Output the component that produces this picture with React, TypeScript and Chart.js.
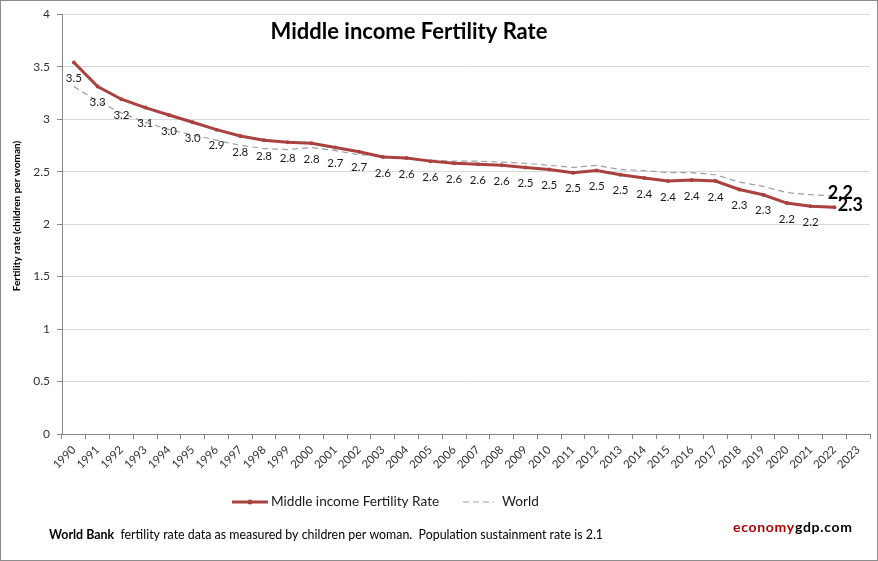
import React, { useEffect, useRef } from "react";
import { Chart, registerables } from "chart.js";

Chart.register(...registerables);

const years = [
  "1990", "1991", "1992", "1993", "1994", "1995", "1996", "1997", "1998", "1999",
  "2000", "2001", "2002", "2003", "2004", "2005", "2006", "2007", "2008", "2009",
  "2010", "2011", "2012", "2013", "2014", "2015", "2016", "2017", "2018", "2019",
  "2020", "2021", "2022", "2023",
];

// Total fertility rate, children per woman
const middleIncome = [
  3.54, 3.31, 3.19, 3.11, 3.04, 2.97, 2.9, 2.84, 2.8, 2.78,
  2.77, 2.73, 2.69, 2.64, 2.63, 2.6, 2.58, 2.57, 2.56, 2.54,
  2.52, 2.49, 2.51, 2.47, 2.44, 2.41, 2.42, 2.41, 2.33, 2.28,
  2.2, 2.17, 2.16, null,
];

const world = [
  3.31, 3.17, 3.06, 2.97, 2.9, 2.85, 2.8, 2.75, 2.72, 2.71,
  2.73, 2.7, 2.66, 2.65, 2.62, 2.61, 2.6, 2.6, 2.59, 2.58,
  2.56, 2.54, 2.56, 2.52, 2.51, 2.49, 2.49, 2.47, 2.4, 2.36,
  2.3, 2.28, 2.27, null,
];

const yTicks = [0, 0.5, 1, 1.5, 2, 2.5, 3, 3.5, 4];

const TITLE = "Middle income Fertility Rate";
const Y_TITLE = "Fertility rate (children per woman)";
const FOOT_BOLD = "World Bank";
const FOOT_TEXT = "  fertility rate data as measured by children per woman.  Population sustainment rate is 2.1";

const RED = "#a9423e";
const GREY_DASH = "#a0a0a0";
const AXIS = "#868686";
const FONT = "Lato, 'Open Sans', sans-serif";

function lastIndex(arr: (number | null)[]) {
  for (let i = arr.length - 1; i >= 0; i--) if (arr[i] != null) return i;
  return -1;
}

const decorations = {
  id: "decorations",
  afterDatasetsDraw(chart: any) {
    const ctx = chart.ctx as CanvasRenderingContext2D;
    const redMeta = chart.getDatasetMeta(0);
    const worldMeta = chart.getDatasetMeta(1);
    const redData = chart.data.datasets[0].data as (number | null)[];
    const worldData = chart.data.datasets[1].data as (number | null)[];
    const lastRed = lastIndex(redData);
    const lastWorld = lastIndex(worldData);

    ctx.save();
    ctx.fillStyle = "#1a1a1a";
    ctx.textAlign = "center";
    ctx.textBaseline = "middle";
    ctx.font = `11.5px ${FONT}`;
    redData.forEach((v, i) => {
      if (v == null || i === lastRed) return;
      const p = redMeta.data[i];
      ctx.fillText(v.toFixed(1), p.x, p.y + 16);
    });

    // Final-year values, larger
    ctx.fillStyle = "#000";
    ctx.font = `bold 18px ${FONT}`;
    if (lastRed >= 0) {
      const p = redMeta.data[lastRed];
      ctx.fillText((redData[lastRed] as number).toFixed(1), p.x + 6, p.y - 14);
    }
    if (lastWorld >= 0) {
      const p = worldMeta.data[lastWorld];
      ctx.fillText((worldData[lastWorld] as number).toFixed(1), p.x + 16, p.y + 9);
    }
    ctx.restore();
  },
  afterDraw(chart: any) {
    const ctx = chart.ctx as CanvasRenderingContext2D;
    const W = chart.width;
    const H = chart.height;
    ctx.save();

    // Title
    ctx.fillStyle = "#000";
    ctx.textAlign = "center";
    ctx.textBaseline = "middle";
    ctx.font = `bold 22px ${FONT}`;
    ctx.fillText(TITLE, 409, 32);

    // Y axis title
    ctx.save();
    ctx.translate(17, 216);
    ctx.rotate(-Math.PI / 2);
    ctx.font = `bold 10px ${FONT}`;
    ctx.fillText(Y_TITLE, 0, 0);
    ctx.restore();

    // Legend
    const ds = chart.data.datasets;
    const ly = 502;
    ctx.textAlign = "left";
    ctx.font = `13.6px ${FONT}`;
    ctx.fillStyle = "#1a1a1a";

    ctx.strokeStyle = ds[0].borderColor;
    ctx.lineWidth = ds[0].borderWidth;
    ctx.beginPath();
    ctx.moveTo(232, ly);
    ctx.lineTo(268, ly);
    ctx.stroke();
    ctx.fillStyle = ds[0].borderColor;
    ctx.beginPath();
    ctx.arc(250, ly, 2.5, 0, Math.PI * 2);
    ctx.fill();
    ctx.fillStyle = "#1a1a1a";
    ctx.fillText(ds[0].label, 271, ly);

    ctx.strokeStyle = ds[1].borderColor;
    ctx.lineWidth = ds[1].borderWidth;
    ctx.setLineDash(ds[1].borderDash);
    ctx.beginPath();
    ctx.moveTo(463, ly);
    ctx.lineTo(494, ly);
    ctx.stroke();
    ctx.setLineDash([]);
    ctx.fillText(ds[1].label, 502, ly);

    // Footer note
    const fy = 535;
    ctx.font = `bold 12.4px ${FONT}`;
    ctx.fillStyle = "#000";
    ctx.fillText(FOOT_BOLD, 49, fy);
    const bw = ctx.measureText(FOOT_BOLD).width;
    ctx.font = `12.4px ${FONT}`;
    ctx.fillText(FOOT_TEXT, 49 + bw, fy);

    // Site mark
    ctx.font = `bold 14px ${FONT}`;
    (ctx as any).letterSpacing = "0.7px";
    ctx.fillStyle = "#b00000";
    ctx.fillText("economy", 733, 527);
    const ew = ctx.measureText("economy").width;
    ctx.fillStyle = "#000";
    ctx.fillText("gdp.com", 733 + ew, 527);
    (ctx as any).letterSpacing = "0px";

    // Frame
    ctx.strokeStyle = "#8c8c8c";
    ctx.lineWidth = 1;
    ctx.strokeRect(0.5, 0.5, W - 1, H - 1);
    ctx.restore();
  },
};

export default function App() {
  const canvasRef = useRef<HTMLCanvasElement | null>(null);

  useEffect(() => {
    document.body.style.margin = "0";
    const canvas = canvasRef.current;
    if (!canvas) return;
    const chart = new Chart(canvas, {
      type: "line",
      data: {
        labels: years,
        datasets: [
          {
            label: "Middle income Fertility Rate",
            data: middleIncome,
            borderColor: RED,
            backgroundColor: RED,
            borderWidth: 3,
            pointRadius: 2,
            pointBorderWidth: 0,
            pointBackgroundColor: RED,
            tension: 0,
            spanGaps: false,
          },
          {
            label: "World",
            data: world,
            borderColor: GREY_DASH,
            backgroundColor: GREY_DASH,
            borderWidth: 1.2,
            borderDash: [6, 4],
            pointRadius: 0,
            tension: 0,
          },
        ],
      },
      options: {
        responsive: false,
        animation: false,
        devicePixelRatio: 1,
        layout: { padding: { top: 13, right: 8, left: 0, bottom: 0 } },
        plugins: {
          legend: { display: false },
          title: { display: false },
          tooltip: { enabled: false },
        },
        scales: {
          x: {
            offset: true,
            grid: {
              offset: true,
              drawOnChartArea: false,
              drawTicks: true,
              tickLength: 5,
              tickColor: AXIS,
            },
            border: { display: true, color: AXIS },
            ticks: {
              autoSkip: false,
              maxRotation: 45,
              minRotation: 45,
              padding: 4,
              color: "#333",
              font: { family: FONT, size: 11.5 },
            },
            afterFit(scale: any) {
              scale.height = 127;
            },
          },
          y: {
            min: 0,
            max: 4,
            afterBuildTicks(scale: any) {
              scale.ticks = yTicks.map((v) => ({ value: v }));
            },
            grid: {
              color: (c: any) => (c.tick && c.tick.value === 0 ? AXIS : "#d9d9d9"),
              tickColor: AXIS,
              tickLength: 5,
            },
            border: { display: true, color: AXIS },
            ticks: {
              padding: 7,
              color: "#333",
              font: { family: FONT, size: 12 },
              callback: (v: any) => String(v),
            },
            afterFit(scale: any) {
              scale.width = 62;
            },
          },
        },
      },
      plugins: [decorations],
    });
    return () => chart.destroy();
  }, []);

  return (
    <div style={{ width: 878, height: 561, position: "relative" }}>
      <canvas ref={canvasRef} width={878} height={561} />
    </div>
  );
}
